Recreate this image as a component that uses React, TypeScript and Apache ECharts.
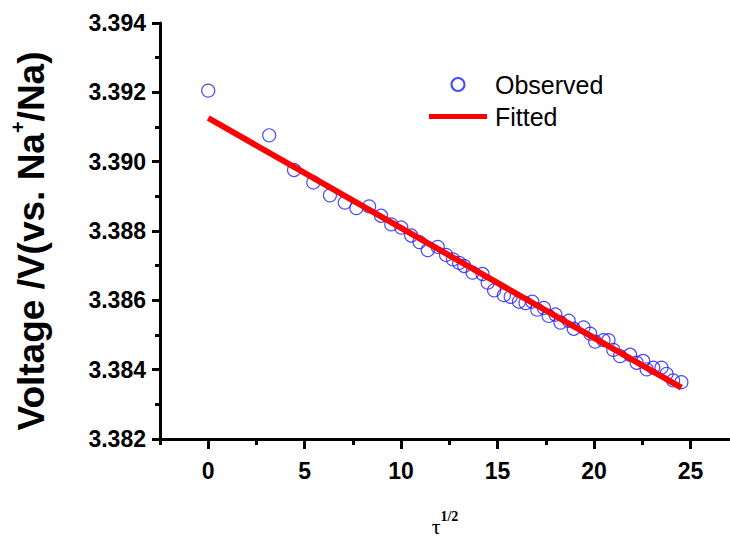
import React, { useEffect, useRef } from "react";
import * as echarts from "echarts";

const obsX = [0, 3.16, 4.45, 5.45, 6.31, 7.08, 7.68, 8.34, 8.96, 9.49, 10.01, 10.52, 10.95, 11.38, 11.9, 12.33, 12.69, 13.01, 13.27, 13.7, 14.22, 14.49, 14.82, 15.33, 15.68, 16.11, 16.45, 16.8, 17.06, 17.4, 17.65, 18.0, 18.26, 18.69, 18.95, 19.46, 19.8, 20.06, 20.49, 20.75, 21.0, 21.35, 21.87, 22.21, 22.55, 22.73, 23.07, 23.5, 23.76, 24.1, 24.53];
const obsV = [3.39205, 3.39076, 3.38976, 3.3894, 3.38903, 3.38882, 3.38866, 3.38871, 3.38844, 3.38819, 3.3881, 3.38787, 3.38768, 3.38745, 3.38754, 3.38731, 3.38718, 3.38708, 3.38699, 3.3868, 3.38676, 3.38651, 3.38629, 3.38615, 3.3861, 3.38596, 3.38592, 3.38596, 3.38573, 3.38578, 3.38555, 3.38559, 3.38536, 3.38541, 3.38518, 3.38522, 3.38504, 3.38481, 3.38485, 3.38485, 3.38457, 3.38439, 3.38443, 3.3842, 3.38425, 3.38401, 3.38406, 3.38406, 3.38388, 3.38369, 3.38364];

const fitX = [0, 24.53];
const fitV = [3.39126, 3.38348];

const xMajorTicks = [0, 5, 10, 15, 20, 25];
const xMinorTicks = [-2.5, 2.5, 7.5, 12.5, 17.5, 22.5];

export default function App() {
  const ref = useRef<HTMLDivElement>(null);
  useEffect(() => {
    if (!ref.current) return;
    const chart = echarts.init(ref.current, null, { renderer: "svg" });
    const font = "Liberation Sans, Arial, sans-serif";
    const axisLine = { show: true, onZero: false, lineStyle: { color: "#000", width: 3 } };
    chart.setOption({
      animation: false,
      backgroundColor: "#fff",
      grid: { left: 157, top: 23, width: 573, height: 431, containLabel: false },
      legend: {
        orient: "vertical",
        left: 429,
        top: 72,
        padding: 0,
        itemWidth: 58,
        itemHeight: 13,
        itemGap: 7,
        textStyle: { fontSize: 25, fontFamily: font, color: "#000", padding: [0, 0, 0, 3] },
        data: [
          { name: "Observed", icon: "circle" },
          { name: "Fitted", icon: "path://M0,0H58V5H0Z" },
        ],
      },
      xAxis: [
        {
          type: "value",
          min: -2.5,
          max: 27.05,
          axisLine: axisLine,
          splitLine: { show: false },
          axisTick: {
            show: true,
            inside: false,
            length: 10,
            lineStyle: { width: 3, color: "#000" },
            customValues: xMajorTicks,
          },
          axisLabel: {
            customValues: xMajorTicks,
            margin: 20,
            fontSize: 23,
            fontWeight: "bold",
            fontFamily: font,
            color: "#000",
          },
          name: "{t|τ}{s|1/2}",
          nameLocation: "middle",
          nameGap: 70,
          nameTextStyle: {
            rich: {
              t: { fontFamily: "Liberation Serif, serif", fontSize: 22, color: "#000", verticalAlign: "bottom", lineHeight: 28 },
              s: { fontFamily: "Liberation Serif, serif", fontSize: 14, fontWeight: "bold", color: "#000", verticalAlign: "top", lineHeight: 28 },
            },
          },
        },
        {
          type: "value",
          min: -2.5,
          max: 27.05,
          position: "bottom",
          axisLine: { show: false, onZero: false },
          splitLine: { show: false },
          axisLabel: { show: false },
          axisTick: {
            show: true,
            inside: false,
            length: 6,
            lineStyle: { width: 3, color: "#000" },
            customValues: xMinorTicks,
          },
        },
      ],
      yAxis: {
        type: "value",
        min: 3.382,
        max: 3.394,
        interval: 0.002,
        axisLine: axisLine,
        splitLine: { show: false },
        axisTick: { show: true, inside: false, length: 8, lineStyle: { width: 3, color: "#000" } },
        minorTick: { show: true, splitNumber: 2, length: 5, lineStyle: { width: 3, color: "#000" } },
        axisLabel: {
          margin: 14,
          fontSize: 23,
          fontWeight: "bold",
          fontFamily: font,
          color: "#000",
          formatter: (v: number) => v.toFixed(3),
        },
        name: "{a|Voltage /V(vs. Na}{s|+}{a|/Na)}",
        nameLocation: "middle",
        nameRotate: 90,
        nameGap: 110,
        nameTextStyle: {
          padding: [0, 20, 0, 0],
          rich: {
            a: { fontSize: 37, fontWeight: "bold", fontFamily: font, color: "#000", verticalAlign: "bottom", lineHeight: 42 },
            s: { fontSize: 20, fontWeight: "bold", fontFamily: font, color: "#000", verticalAlign: "top", lineHeight: 42 },
          },
        },
      },
      series: [
        {
          name: "Observed",
          type: "scatter",
          xAxisIndex: 0,
          symbol: "circle",
          symbolSize: 13,
          itemStyle: { color: "rgba(255,255,255,0)", borderColor: "#1a1aff", borderWidth: 1.2 },
          data: obsX.map((x, i) => [x, obsV[i]]),
          z: 2,
        },
        {
          name: "Fitted",
          type: "line",
          xAxisIndex: 0,
          showSymbol: false,
          symbol: "none",
          lineStyle: { color: "#ff0000", width: 6 },
          itemStyle: { color: "#ff0000" },
          data: fitX.map((x, i) => [x, fitV[i]]),
          z: 3,
        },
      ],
    });
    return () => chart.dispose();
  }, []);
  return <div ref={ref} style={{ position: "fixed", left: 0, top: 0, width: 730, height: 542 }} />;
}
